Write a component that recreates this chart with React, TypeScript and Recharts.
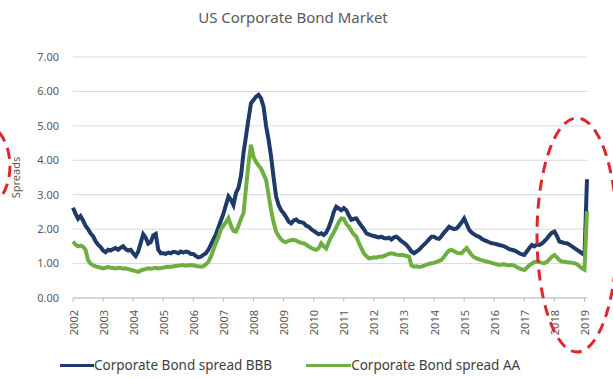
import React from 'react';
import { LineChart, Line, XAxis, YAxis, CartesianGrid } from 'recharts';

// monthly spreads, Jan 2002 .. Feb 2019
const startYear = 2002;

const bbbSpread = [
  // 2002
  2.62, 2.45, 2.30, 2.38, 2.25, 2.10, 2.00, 1.88, 1.80, 1.65, 1.55, 1.48,
  // 2003
  1.38, 1.33, 1.40, 1.38, 1.42, 1.45, 1.40, 1.46, 1.50, 1.42, 1.38, 1.40,
  // 2004
  1.30, 1.22, 1.35, 1.60, 1.85, 1.75, 1.58, 1.62, 1.82, 1.86, 1.40, 1.30,
  // 2005
  1.30, 1.28, 1.32, 1.30, 1.34, 1.33, 1.30, 1.35, 1.32, 1.35, 1.33, 1.28,
  // 2006
  1.28, 1.22, 1.18, 1.20, 1.25, 1.30, 1.40, 1.55, 1.70, 1.85, 2.05, 2.25,
  // 2007
  2.45, 2.70, 2.95, 2.85, 2.70, 3.05, 3.20, 3.55, 4.21, 4.70, 5.20, 5.66,
  // 2008
  5.75, 5.85, 5.90, 5.80, 5.56, 5.00, 4.60, 4.11, 3.50, 2.95, 2.70, 2.55,
  // 2009
  2.46, 2.35, 2.22, 2.17, 2.25, 2.28, 2.22, 2.20, 2.18, 2.10, 2.07, 2.00,
  // 2010
  1.95, 1.90, 1.85, 1.88, 1.83, 1.90, 2.05, 2.25, 2.50, 2.65, 2.60, 2.55,
  // 2011
  2.61, 2.55, 2.40, 2.27, 2.30, 2.31, 2.20, 2.10, 2.00, 1.88, 1.85, 1.82,
  // 2012
  1.80, 1.78, 1.76, 1.78, 1.74, 1.73, 1.75, 1.70, 1.76, 1.78, 1.72, 1.65,
  // 2013
  1.60, 1.54, 1.45, 1.35, 1.30, 1.35, 1.40, 1.48, 1.55, 1.62, 1.70, 1.78,
  // 2014
  1.78, 1.73, 1.72, 1.80, 1.90, 1.98, 2.07, 2.03, 2.00, 2.02, 2.10, 2.20,
  // 2015
  2.31, 2.15, 1.98, 1.90, 1.85, 1.80, 1.78, 1.72, 1.68, 1.65, 1.62, 1.59,
  // 2016
  1.58, 1.56, 1.54, 1.52, 1.50, 1.46, 1.42, 1.40, 1.38, 1.34, 1.30, 1.27,
  // 2017
  1.25, 1.35, 1.45, 1.54, 1.50, 1.55, 1.54, 1.58, 1.65, 1.72, 1.82, 1.90,
  // 2018
  1.93, 1.80, 1.64, 1.62, 1.60, 1.59, 1.55, 1.50, 1.45, 1.40, 1.35, 1.30,
  // 2019
  1.25, 3.45,
];

const aaSpread = [
  // 2002
  1.64, 1.55, 1.50, 1.52, 1.49, 1.40, 1.10, 1.00, 0.95, 0.92, 0.90, 0.88,
  // 2003
  0.86, 0.88, 0.90, 0.88, 0.87, 0.86, 0.88, 0.87, 0.85, 0.86, 0.84, 0.82,
  // 2004
  0.80, 0.78, 0.76, 0.80, 0.82, 0.84, 0.86, 0.85, 0.86, 0.88, 0.86, 0.87,
  // 2005
  0.88, 0.90, 0.91, 0.90, 0.92, 0.93, 0.94, 0.95, 0.96, 0.94, 0.95, 0.96,
  // 2006
  0.95, 0.93, 0.92, 0.91, 0.92, 0.98, 1.05, 1.20, 1.40, 1.60, 1.78, 2.00,
  // 2007
  2.10, 2.20, 2.32, 2.10, 1.95, 1.93, 2.10, 2.30, 2.46, 3.20, 3.90, 4.45,
  // 2008
  4.10, 3.95, 3.85, 3.76, 3.60, 3.43, 3.00, 2.56, 2.20, 1.93, 1.80, 1.70,
  // 2009
  1.64, 1.62, 1.66, 1.68, 1.69, 1.67, 1.63, 1.60, 1.59, 1.55, 1.50, 1.45,
  // 2010
  1.42, 1.40, 1.45, 1.59, 1.50, 1.44, 1.62, 1.78, 1.90, 2.05, 2.20, 2.31,
  // 2011
  2.30, 2.15, 2.07, 1.95, 1.85, 1.78, 1.60, 1.45, 1.30, 1.22, 1.15, 1.16,
  // 2012
  1.18, 1.17, 1.20, 1.20, 1.22, 1.25, 1.28, 1.30, 1.28, 1.26, 1.25, 1.25,
  // 2013
  1.24, 1.22, 1.20, 0.95, 0.91, 0.92, 0.90, 0.91, 0.94, 0.97, 0.99, 1.01,
  // 2014
  1.02, 1.05, 1.08, 1.11, 1.20, 1.30, 1.38, 1.40, 1.36, 1.32, 1.30, 1.30,
  // 2015
  1.38, 1.45, 1.35, 1.25, 1.18, 1.15, 1.12, 1.10, 1.08, 1.06, 1.04, 1.02,
  // 2016
  1.00, 0.98, 0.96, 0.97, 0.98, 0.96, 0.95, 0.96, 0.94, 0.90, 0.86, 0.83,
  // 2017
  0.81, 0.88, 0.95, 1.00, 1.04, 1.06, 1.04, 1.02, 1.01, 1.05, 1.12, 1.20,
  // 2018
  1.25, 1.18, 1.10, 1.06, 1.05, 1.04, 1.03, 1.02, 1.01, 0.98, 0.92, 0.86,
  // 2019
  0.82, 2.52,
];

const yearTicks = [
  2002, 2003, 2004, 2005, 2006, 2007, 2008, 2009, 2010,
  2011, 2012, 2013, 2014, 2015, 2016, 2017, 2018, 2019,
];
const spreadTicks = [0, 1, 2, 3, 4, 5, 6, 7];

const BBB_COLOR = '#1f3a68';
const AA_COLOR = '#6fae42';
const FONT = '"Noto Sans", "Open Sans", sans-serif';

const data = bbbSpread.map((bbb, i) => ({
  t: startYear + i / 12,
  bbb,
  aa: aaSpread[i],
}));

const YearTick = (props: any) => {
  const { x, y, payload } = props;
  return (
    <text
      x={x}
      y={y + 6}
      transform={`rotate(-90, ${x}, ${y + 6})`}
      textAnchor="end"
      dominantBaseline="central"
      fontSize={11}
      fill="#595959"
      fontFamily={FONT}
    >
      {payload.value}
    </text>
  );
};

const App: React.FC = () => {
  return (
    <div style={{ position: 'relative', width: 613, height: 378, background: '#fff' }}>
      <style>{`body { margin: 0; }`}</style>
      <div
        style={{
          position: 'absolute',
          top: 7,
          left: 0,
          width: 586,
          textAlign: 'center',
          fontFamily: FONT,
          fontSize: 15,
          color: '#595959',
        }}
      >
        US Corporate Bond Market
      </div>
      <LineChart
        width={613}
        height={378}
        data={data}
        margin={{ top: 57, right: 26, left: 0, bottom: 40 }}
      >
        <CartesianGrid vertical={false} stroke="#d9d9d9" />
        <XAxis
          dataKey="t"
          type="number"
          domain={[startYear, startYear + (bbbSpread.length - 1) / 12]}
          ticks={yearTicks}
          tick={<YearTick />}
          tickLine={{ stroke: '#bfbfbf' }}
          tickSize={4}
          axisLine={{ stroke: '#bfbfbf' }}
          height={40}
          interval={0}
        />
        <YAxis
          domain={[0, 7]}
          ticks={spreadTicks}
          tickFormatter={(v: number) => v.toFixed(2)}
          axisLine={false}
          tickLine={false}
          width={73}
          tickMargin={8}
          tick={{ fontSize: 11, fill: '#595959', fontFamily: FONT }}
          label={{
            value: 'Spreads',
            angle: -90,
            position: 'insideLeft',
            offset: 16,
            style: { fontSize: 11, fill: '#595959', fontFamily: FONT, textAnchor: 'middle' },
          }}
        />
        <Line
          type="linear"
          dataKey="bbb"
          name="Corporate Bond spread BBB"
          stroke={BBB_COLOR}
          strokeWidth={4}
          dot={false}
          isAnimationActive={false}
        />
        <Line
          type="linear"
          dataKey="aa"
          name="Corporate Bond spread AA"
          stroke={AA_COLOR}
          strokeWidth={4}
          dot={false}
          isAnimationActive={false}
        />
      </LineChart>
      {/* legend */}
      <div
        style={{
          position: 'absolute',
          top: 356,
          left: 60,
          display: 'flex',
          alignItems: 'center',
          fontFamily: FONT,
          fontSize: 13.5,
          color: '#404040',
          whiteSpace: 'nowrap',
        }}
      >
        <span style={{ display: 'inline-block', width: 34, height: 3, background: BBB_COLOR }} />
        <span style={{ marginRight: 34 }}>Corporate Bond spread BBB</span>
        <span style={{ display: 'inline-block', width: 45, height: 3, background: AA_COLOR }} />
        <span>Corporate Bond spread AA</span>
      </div>
      {/* red dashed annotation rings */}
      <svg
        width={613}
        height={378}
        style={{ position: 'absolute', top: 0, left: 0, pointerEvents: 'none' }}
      >
        <ellipse
          cx={-24}
          cy={166}
          rx={34}
          ry={46}
          fill="none"
          stroke="#e0262b"
          strokeWidth={3}
          strokeDasharray="11 7"
        />
        <ellipse
          cx={577}
          cy={235}
          rx={40}
          ry={117}
          fill="none"
          stroke="#e0262b"
          strokeWidth={3}
          strokeDasharray="11 7"
        />
      </svg>
    </div>
  );
};

export default App;
